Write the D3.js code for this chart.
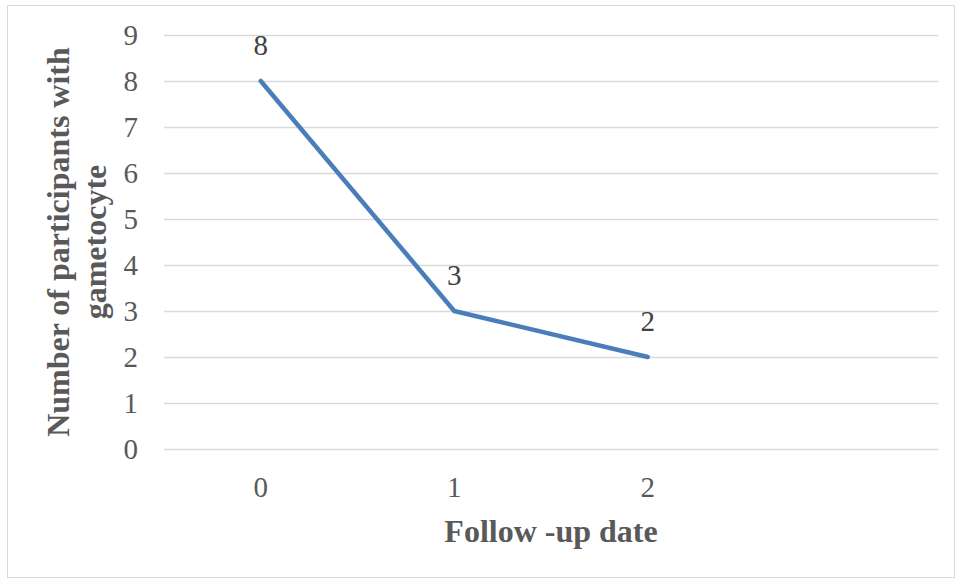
<!DOCTYPE html>
<html><head><meta charset="utf-8">
<script src="https://cdn.jsdelivr.net/npm/d3@7"></script>
<style>body{margin:0;background:#fff}svg{display:block}</style>
</head><body>
<script>
const categories = ["0", "1", "2", ""];
const values = [8, 3, 2];
const yTicks = [0,1,2,3,4,5,6,7,8,9];
const xTitle = "Follow -up date";
const yTitle = ["Number of participants with", "gametocyte"];

(function () {
const W = 957, H = 578;
const svg = d3.select("body").append("svg").attr("width", W).attr("height", H);
svg.append("rect").attr("x", 7.5).attr("y", 5.5).attr("width", W - 10).attr("height", H - 6)
  .attr("fill", "#fff").attr("stroke", "#d9d9d9").attr("stroke-width", 1);

const pLeft = 164, pRight = 938, pTop = 35, pBottom = 449;
const x = d3.scaleBand().domain(categories).range([pLeft, pRight]);
const y = d3.scaleLinear().domain([0, 9]).range([pBottom, pTop]);
const font = "'Liberation Serif', 'Times New Roman', serif";
const tickSize = 29, titleSize = 32;

svg.append("g").selectAll("line").data(yTicks).join("line")
  .attr("x1", pLeft).attr("x2", pRight)
  .attr("y1", d => Math.round(y(d)) + 0.5).attr("y2", d => Math.round(y(d)) + 0.5)
  .attr("stroke", "#d9d9d9").attr("stroke-width", 1.5);

const yAxis = svg.append("g").attr("transform", `translate(${pLeft},0)`)
  .call(d3.axisLeft(y).tickValues(yTicks).tickSize(0).tickPadding(0));
yAxis.select(".domain").remove();
yAxis.attr("font-family", font).attr("font-size", tickSize);
yAxis.selectAll("text").attr("x", -26).attr("fill", "#595959").attr("dy", "0.34em");

const xAxis = svg.append("g").attr("transform", `translate(0,${pBottom})`)
  .call(d3.axisBottom(x).tickSize(0).tickPadding(0));
xAxis.select(".domain").remove();
xAxis.attr("font-family", font).attr("font-size", tickSize);
xAxis.selectAll("text").attr("y", 48).attr("dy", 0).attr("fill", "#595959");

const cx = i => x(categories[i]) + x.bandwidth() / 2;
const line = d3.line().x((d, i) => cx(i)).y(d => y(d));
svg.append("path").datum(values).attr("d", line).attr("fill", "none")
  .attr("stroke", "#4a7ebb").attr("stroke-width", 4.5).attr("stroke-linejoin", "round").attr("stroke-linecap", "round");

svg.append("g").selectAll("text").data(values).join("text")
  .attr("x", (d, i) => cx(i)).attr("y", d => y(d) - 26)
  .attr("text-anchor", "middle").attr("font-family", font).attr("font-size", tickSize).attr("fill", "#404040")
  .text(d => d);

svg.append("text").attr("x", (pLeft + pRight) / 2).attr("y", 542)
  .attr("text-anchor", "middle").attr("font-family", font).attr("font-size", titleSize).attr("font-weight", "bold")
  .attr("fill", "#595959").text(xTitle);

const yt = svg.append("text").attr("transform", `translate(0,242) rotate(-90)`)
  .attr("text-anchor", "middle").attr("font-family", font).attr("font-size", titleSize).attr("font-weight", "bold")
  .attr("fill", "#595959");
yt.selectAll("tspan").data(yTitle).join("tspan").attr("x", 0).attr("y", (d, i) => 69 + i * 37).text(d => d);
})();
</script>
</body></html>
